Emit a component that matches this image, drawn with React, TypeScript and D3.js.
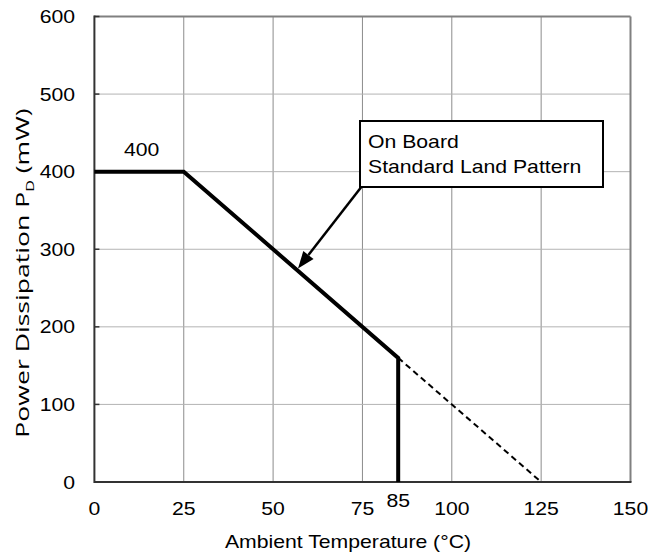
import React from "react";
import * as d3 from "d3";

const xTicks = [0, 25, 50, 75, 100, 125, 150];
const yTicks = [0, 100, 200, 300, 400, 500, 600];
const solidTemp = [0, 25, 85, 85];
const solidPower = [400, 400, 160, 0];
const dashedTemp = [85, 125];
const dashedPower = [160, 0];
const extraTickLabel = 85;
const peakLabel = "400";
const xTitle = "Ambient Temperature (°C)";
const annotationLines = ["On Board", "Standard Land Pattern"];

const W = 648, H = 558;
const left = 94.4, right = 630.5, top = 16.5, bottom = 482;
const font = "'Liberation Sans', Arial, sans-serif";
const FS = 18.6;
const SX = 1.14;

function T({ x, y, anchor = "start", children }: { x: number; y: number; anchor?: string; children: React.ReactNode }) {
  return (
    <text transform={`translate(${x},${y}) scale(${SX},1)`} textAnchor={anchor} fontSize={FS} fill="#000">
      {children}
    </text>
  );
}

export default function App() {
  const x = d3.scaleLinear().domain([0, 150]).range([left, right]);
  const y = d3.scaleLinear().domain([0, 600]).range([bottom, top]);
  const line = d3.line<[number, number]>().x(d => x(d[0])).y(d => y(d[1]));
  const solid: [number, number][] = solidTemp.map((t, i) => [t, solidPower[i]]);
  const dashed: [number, number][] = dashedTemp.map((t, i) => [t, dashedPower[i]]);

  const arrowStart: [number, number] = [361.7, 186.5];
  const arrowTip: [number, number] = [298, 268.5];
  const ang = Math.atan2(arrowTip[1] - arrowStart[1], arrowTip[0] - arrowStart[0]);
  const hl = 17, hw = 6.5;
  const bx = arrowTip[0] - hl * Math.cos(ang), by = arrowTip[1] - hl * Math.sin(ang);
  const px = -Math.sin(ang) * hw, py = Math.cos(ang) * hw;

  return (
    <svg width={W} height={H} style={{ position: "absolute", left: 0, top: 0, background: "#fff" }} fontFamily={font}>
      {/* grid */}
      {xTicks.filter(t => t > 0 && t < 150).map(t => (
        <line key={"gx" + t} x1={x(t)} x2={x(t)} y1={top} y2={bottom} stroke="#8c8c8c" strokeWidth={1} />
      ))}
      {yTicks.filter(t => t > 0 && t < 600).map(t => (
        <line key={"gy" + t} x1={left} x2={right} y1={y(t)} y2={y(t)} stroke="#b4b4b4" strokeWidth={1} />
      ))}
      {/* frame */}
      <line x1={left} x2={right} y1={top} y2={top} stroke="#808080" strokeWidth={2} />
      <line x1={right} x2={right} y1={top} y2={bottom} stroke="#808080" strokeWidth={2} />
      <line x1={left} x2={left} y1={top - 1} y2={bottom + 1} stroke="#333" strokeWidth={2} />
      <line x1={left} x2={right + 1} y1={bottom} y2={bottom} stroke="#333" strokeWidth={2} />
      {yTicks.map(t => (
        <line key={"ty" + t} x1={left} x2={left + 5} y1={y(t)} y2={y(t)} stroke="#333" strokeWidth={1.5} />
      ))}
      {/* y tick labels */}
      {yTicks.map(t => (
        <T key={"ly" + t} x={75} y={y(t) + 6.5} anchor="end">{t}</T>
      ))}
      {/* x tick labels */}
      {xTicks.map(t => (
        <T key={"lx" + t} x={x(t)} y={515} anchor="middle">{t}</T>
      ))}
      <T x={x(extraTickLabel)} y={507} anchor="middle">{extraTickLabel}</T>
      {/* titles */}
      <T x={348} y={548} anchor="middle">{xTitle}</T>
      <text transform={`translate(29,273) rotate(-90) scale(1.4,1)`} textAnchor="middle" fontSize={19} fill="#000" fontFamily="'Open Sans', sans-serif">
        Power Dissipation P<tspan fontSize={11.5} dy={4.5}>D</tspan><tspan dy={-4.5}> (mW)</tspan>
      </text>
      {/* data */}
      <path d={line(dashed) || ""} fill="none" stroke="#000" strokeWidth={2} strokeDasharray="6,4" />
      <path d={line(solid) || ""} fill="none" stroke="#000" strokeWidth={4} strokeLinejoin="miter" />
      <T x={141.7} y={156} anchor="middle">{peakLabel}</T>
      {/* annotation */}
      <rect x={360} y={121} width={243} height={66} fill="#fff" stroke="#000" strokeWidth={2} />
      {annotationLines.map((s, i) => (
        <T key={s} x={368} y={148 + i * 25}>{s}</T>
      ))}
      <line x1={arrowStart[0]} y1={arrowStart[1]} x2={bx} y2={by} stroke="#000" strokeWidth={2.5} />
      <path d={`M${arrowTip[0]},${arrowTip[1]} L${bx + px},${by + py} L${bx - px},${by - py} Z`} fill="#000" />
    </svg>
  );
}
